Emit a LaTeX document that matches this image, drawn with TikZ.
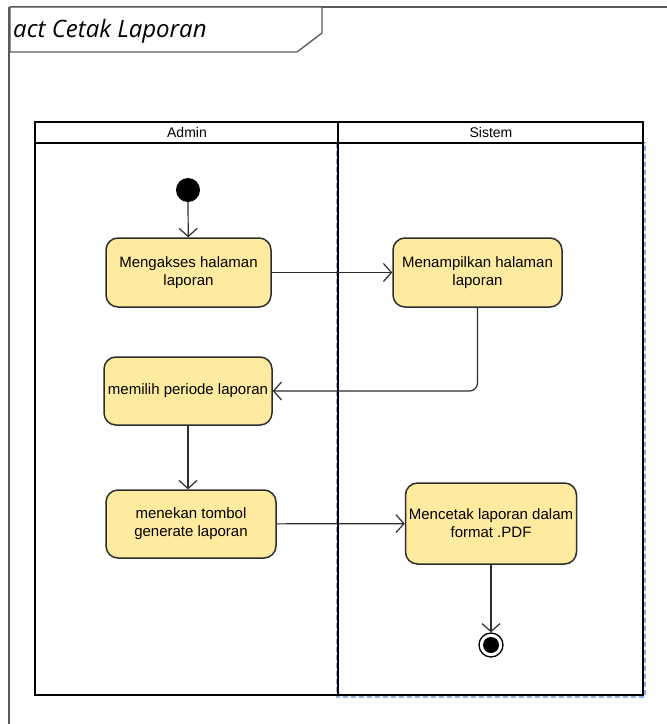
\documentclass[tikz,border=0pt]{standalone}
\usepackage{fontspec}
\setmainfont{Liberation Sans}
\newfontfamily\titlefont{Open Sans}
\usetikzlibrary{arrows.meta}
\definecolor{actfill}{RGB}{255,235,160}
\definecolor{actline}{RGB}{45,45,45}
\definecolor{selblue}{RGB}{140,175,230}
\tikzset{
  action/.style={draw=actline, line width=1.5pt, fill=actfill, rounded corners=12pt,
    align=center, inner sep=2pt, font=\fontsize{15}{18}\selectfont},
  flow/.style={draw=actline, line width=1.2pt, -{Straight Barb[length=8pt,width=18pt]}},
  lane/.style={line width=2.5pt}
}

\begin{document}
\begin{tikzpicture}[x=1pt,y=-1pt]
\useasboundingbox (0,0) rectangle (667,724);
% frame
\draw[gray!70!black, line width=1.3pt] (10,7) -- (667,7);
\draw[gray!70!black, line width=1.3pt] (9,7) -- (9,724);
\draw[gray!70!black, line width=1.3pt, fill=white] (10,7) -- (322,7) -- (322,33) -- (297,52) -- (10,52) -- cycle;
\node[anchor=west, inner sep=0, font=\titlefont\itshape\fontsize{24}{28}\selectfont] (title) at (13,31) {act Cetak Laporan};
% lanes
\draw[selblue, line width=1.5pt, dash pattern=on 5pt off 3pt] (337,143) rectangle (645,697);
\draw[lane] (35,122) rectangle (643,695);
\draw[lane] (35,143) -- (643,143);
\draw[lane] (338,122) -- (338,695);
\foreach \x/\t in {187/Admin, 491/Sistem}
  \node[font=\fontsize{14}{16}\selectfont] at (\x,132.5) {\t};
% nodes
\fill (188,190) circle (12) coordinate (start);
\node[action, minimum width=165, minimum height=69] (akses) at (188.5,272.5) {Mengakses halaman\\laporan};
\node[action, minimum width=169, minimum height=69] (tampil) at (477.5,272.5) {Menampilkan halaman\\laporan};
\node[action, minimum width=168, minimum height=68] (periode) at (188,391) {memilih periode laporan};
\node[action, minimum width=170, minimum height=68] (generate) at (191,524) {menekan tombol\\generate laporan};
\node[action, minimum width=171, minimum height=81] (cetak) at (491,523.5) {Mencetak laporan dalam\\format .PDF};
\node[circle, draw, line width=1.3pt, fill=white, minimum size=24, inner sep=0] (end) at (491,645) {};
\fill (end) circle (8);
% flows
\draw[flow] (188,202) -- (akses);
\draw[flow] (akses) -- (tampil);
\draw[flow, rounded corners=8pt] (tampil.south) -- (tampil.south |- periode.east) -- (periode.east);
\draw[flow] (periode) -- (generate.north -| periode);
\draw[flow] (generate) -- (cetak);
\draw[flow] (cetak) -- (end);
\end{tikzpicture}
\end{document}
